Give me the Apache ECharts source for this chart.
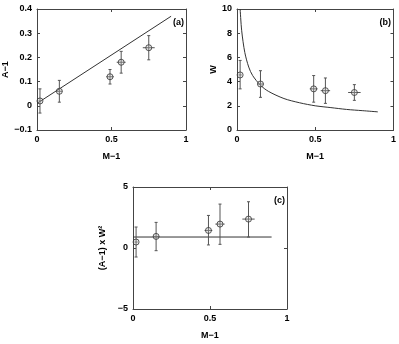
<!DOCTYPE html>
<html>
<head>
<meta charset="utf-8">
<script src="https://cdn.jsdelivr.net/npm/echarts@6/dist/echarts.min.js"></script>
<style>
  html, body { margin: 0; padding: 0; background: #fff; }
  #chart { width: 399px; height: 344px; }
</style>
</head>
<body>
<div id="chart"></div>
<script>
// measured points (shared x)
const xVals = [0.02, 0.15, 0.49, 0.565, 0.75]
const xErr = [0.01, 0.02, 0.025, 0.03, 0.04]

// panel (a): A-1
const aVals = [0.02, 0.06, 0.12, 0.18, 0.24]
const aLow = [-0.03, 0.015, 0.09, 0.135, 0.19]
const aHigh = [0.07, 0.105, 0.15, 0.225, 0.29]
const aFit = [[0, 0.01], [0.9, 0.37]]

// panel (b): W
const wVals = [4.55, 3.8, 3.4, 3.25, 3.1]
const wLow = [3.4, 2.7, 2.3, 2.2, 2.45]
const wHigh = [5.75, 4.9, 4.5, 4.3, 3.75]
const wFit = [[0.02, 10], [0.03, 8.2], [0.05, 6.4], [0.075, 5.2], [0.1, 4.5], [0.15, 3.7],
  [0.2, 3.2], [0.3, 2.6], [0.4, 2.25], [0.5, 2.0], [0.6, 1.85], [0.7, 1.7], [0.8, 1.6], [0.9, 1.5]]

// panel (c): (A-1) x W^2
const cVals = [0.49, 0.95, 1.44, 1.96, 2.37]
const cLow = [-0.74, -0.22, 0.25, 0.3, 0.9]
const cHigh = [1.72, 2.1, 2.67, 3.6, 3.79]
const cFit = [[0, 0.9], [0.9, 0.9]]

const xTicks = { min: 0, max: 1, interval: 0.5 }
const aTicks = { min: -0.1, max: 0.4, interval: 0.1 }
const wTicks = { min: 0, max: 10, interval: 2 }
const cTicks = { min: -5, max: 5, interval: 5 }

const font = 'Liberation Sans'
const ink = '#444'
const minus = v => String(+v.toFixed(2)).replace('-', '\u2212')

const chart = echarts.init(document.getElementById('chart'))

const grids = [
  { left: 37, top: 9, width: 149, height: 121 },
  { left: 237, top: 9, width: 157, height: 121 },
  { left: 133, top: 187, width: 154, height: 122 },
]

function axisBase(ticks, extra) {
  return Object.assign({
    type: 'value',
    min: ticks.min, max: ticks.max, interval: ticks.interval,
    axisLine: { show: true, onZero: false, lineStyle: { color: ink, width: 1 } },
    axisTick: { show: true, inside: true, length: 3, lineStyle: { color: ink } },
    splitLine: { show: false },
    axisLabel: { color: '#000', fontFamily: font, fontWeight: 'bold', fontSize: 9, margin: 5, formatter: minus },
    nameTextStyle: { color: '#000', fontFamily: font, fontWeight: 'bold', fontSize: 9 },
  }, extra)
}

const yTicksList = [aTicks, wTicks, cTicks]
const yNames = ['A\u22121', 'W', '(A\u22121) x W\u00b2']
const yGaps = [22, 18, 26]
const xAxis = []
const yAxis = []
grids.forEach((g, i) => {
  xAxis.push(axisBase(xTicks, { gridIndex: i, position: 'bottom', name: 'M\u22121', nameLocation: 'middle', nameGap: 22 }))
  xAxis.push(axisBase(xTicks, { gridIndex: i, position: 'top', axisLabel: { show: false } }))
  yAxis.push(axisBase(yTicksList[i], { gridIndex: i, position: 'left', name: yNames[i], nameLocation: 'middle', nameGap: yGaps[i] }))
  yAxis.push(axisBase(yTicksList[i], { gridIndex: i, position: 'right', axisLabel: { show: false } }))
})

function errorRows(vals, low, high) {
  return xVals.map((x, i) => [x, vals[i], low[i], high[i], xErr[i]])
}

function errorBars(idx, rows) {
  return {
    type: 'custom',
    xAxisIndex: idx * 2, yAxisIndex: idx * 2,
    data: rows,
    z: 3,
    renderItem(params, api) {
      const x = api.value(0), y = api.value(1), lo = api.value(2), hi = api.value(3), xe = api.value(4)
      const pLo = api.coord([x, lo]), pHi = api.coord([x, hi])
      const pL = api.coord([x - xe, y]), pR = api.coord([x + xe, y])
      const st = { stroke: '#555', lineWidth: 1 }
      const cap = 1.5
      return {
        type: 'group',
        children: [
          { type: 'line', shape: { x1: pLo[0], y1: pLo[1], x2: pHi[0], y2: pHi[1] }, style: st },
          { type: 'line', shape: { x1: pLo[0] - cap, y1: pLo[1], x2: pLo[0] + cap, y2: pLo[1] }, style: st },
          { type: 'line', shape: { x1: pHi[0] - cap, y1: pHi[1], x2: pHi[0] + cap, y2: pHi[1] }, style: st },
          { type: 'line', shape: { x1: pL[0], y1: pL[1], x2: pR[0], y2: pR[1] }, style: st },
        ],
      }
    },
  }
}

function points(idx, vals) {
  return {
    type: 'scatter',
    xAxisIndex: idx * 2, yAxisIndex: idx * 2,
    data: xVals.map((x, i) => [x, vals[i]]),
    symbol: 'circle',
    symbolSize: 6,
    itemStyle: { color: 'rgba(190,190,190,0.35)', borderColor: '#333', borderWidth: 1 },
    z: 4,
  }
}

function fitLine(idx, data, smooth) {
  return {
    type: 'line',
    xAxisIndex: idx * 2, yAxisIndex: idx * 2,
    data,
    smooth: smooth ? 0.3 : false,
    showSymbol: false,
    lineStyle: { color: '#333', width: 1 },
    z: 2,
  }
}

function panelTag(text, right, top) {
  return {
    type: 'text', right, top,
    style: { text, fill: '#000', font: 'bold 9px "Liberation Sans"' },
  }
}

chart.setOption({
  animation: false,
  backgroundColor: '#fff',
  grid: grids,
  xAxis,
  yAxis,
  series: [
    fitLine(0, aFit), errorBars(0, errorRows(aVals, aLow, aHigh)), points(0, aVals),
    fitLine(1, wFit, true), errorBars(1, errorRows(wVals, wLow, wHigh)), points(1, wVals),
    fitLine(2, cFit), errorBars(2, errorRows(cVals, cLow, cHigh)), points(2, cVals),
  ],
  graphic: [
    panelTag('(a)', 399 - 184, 18),
    panelTag('(b)', 399 - 391, 18),
    panelTag('(c)', 399 - 285, 196),
  ],
})
</script>
</body>
</html>
